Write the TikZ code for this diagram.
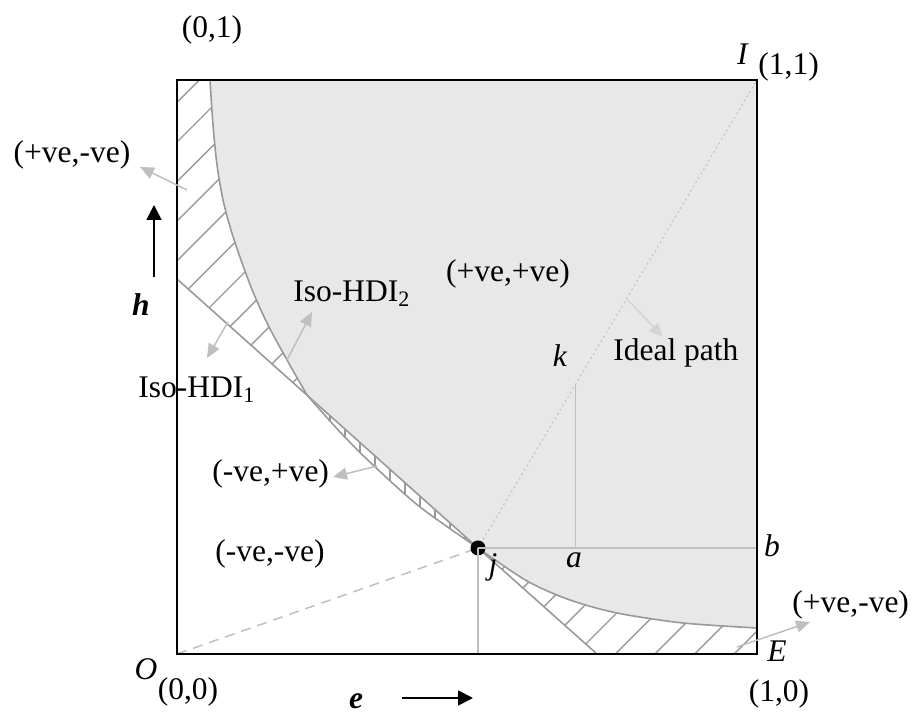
\documentclass[tikz,border=0pt]{standalone}
\usepackage{fontspec}
\setmainfont{Liberation Serif}
\usetikzlibrary{arrows.meta, calc, patterns.meta}
\definecolor{hdigray}{HTML}{999999}
\definecolor{regiongray}{HTML}{E8E8E8}
\definecolor{guidegray}{HTML}{BFBFBF}
\definecolor{pathgray}{HTML}{D4D4D4}

\begin{document}
\begin{tikzpicture}[
    x=0.5pt, y=-0.5pt,
    every node/.style={font=\fontsize{15.75}{19}\selectfont, inner sep=0pt},
    labeltext/.style={anchor=base},
    isoline/.style={draw=hdigray, line width=0.8pt},
    guide/.style={draw=guidegray, line width=0.75pt},
    hatch/.style={pattern={Lines[angle=45, distance=14pt, line width=0.7pt]}, pattern color=hdigray},
    tickhatch/.style={pattern={Lines[angle=90, distance=7.5pt, line width=0.7pt]}, pattern color=hdigray},
    pointer/.style={-{Triangle[length=7pt, width=6pt]}, guidegray, line width=0.75pt},
    axisarrow/.style={-{Triangle[length=7.5pt, width=7.5pt]}, black, line width=0.9pt}
]
    \useasboundingbox (0,0) rectangle (912,715);

    \coordinate (O) at (177,654);
    \coordinate (I) at (757,80);
    \coordinate (E) at (757,654);
    \coordinate (topleft) at (177,80);
    \coordinate (j) at (478,548);
    \coordinate (iso1top) at (177,279);
    \coordinate (iso1bot) at (597,654);
    \coordinate (k) at ($(j)!0.35!(I)$);

    \fill[regiongray] plot[smooth] coordinates {(210,80) (213,125) (217,165) (223,200) (231,230) (241,260) (253,292) (268,325) (287,360) (307,395)}
        -- (j) -- plot[smooth] coordinates {(478,548) (527,581) (570,600) (617,613) (683,623) (757,628)} -- (I) -- cycle;

    \fill[hatch] (topleft) -- plot[smooth] coordinates {(210,80) (213,125) (217,165) (223,200) (231,230) (241,260) (253,292) (268,325) (287,360) (307,395)} -- (iso1top) -- cycle;
    \fill[tickhatch] plot[smooth] coordinates {(307,395) (340,432) (373,465) (420,507) (478,548)} -- cycle;
    \fill[hatch] plot[smooth] coordinates {(478,548) (527,581) (570,600) (617,613) (683,623) (757,628)} -- (E) -- (iso1bot) -- cycle;

    \draw[isoline] plot[smooth] coordinates {(210,80) (213,125) (217,165) (223,200) (231,230) (241,260) (253,292) (268,325) (287,360) (307,395)};
    \draw[isoline] plot[smooth] coordinates {(307,395) (340,432) (373,465) (420,507) (478,548)};
    \draw[isoline] plot[smooth] coordinates {(478,548) (527,581) (570,600) (617,613) (683,623) (757,628)};
    \draw[isoline] (iso1top) -- (j) -- (iso1bot);

    \draw[guidegray, line width=0.75pt, dash pattern=on 5pt off 3.5pt] (O) -- (j);
    \draw[guidegray, line width=0.5pt, dash pattern=on 1pt off 1.5pt] (j) -- (I);

    \node[circle, fill=black, minimum size=7.5pt] (jdot) at (j) {};

    \draw[guide] (j) -- (j |- O);
    \draw[guide] (j) -- (j -| I);
    \draw[guide] (k) -- (k |- j);

    \draw[line width=1pt] (topleft) rectangle (E);

    \coordinate (pnleftfrom) at (187,190);
    \coordinate (pnleftto) at (140,167);
    \coordinate (iso1from) at (228,322);
    \coordinate (iso1to) at (207,358);
    \coordinate (iso2from) at (287,360);
    \coordinate (iso2to) at (312,312);
    \coordinate (npfrom) at (377,466);
    \coordinate (npto) at (333,477);
    \coordinate (idealfrom) at (626,298);
    \coordinate (idealto) at (663,337);
    \coordinate (pnrightfrom) at (737,647);
    \coordinate (pnrightto) at (810,622);
    \coordinate (hfrom) at (154,277);
    \coordinate (hto) at (154,205);
    \coordinate (efrom) at (402,698);
    \coordinate (eto) at (473,698);

    \draw[pointer] (pnleftfrom) -- (pnleftto);
    \draw[pointer] (iso1from) -- (iso1to);
    \draw[pointer] (iso2from) -- (iso2to);
    \draw[pointer] (npfrom) -- (npto);
    \draw[pointer, pathgray] (idealfrom) -- (idealto);
    \draw[pointer] (pnrightfrom) -- (pnrightto);
    \draw[axisarrow] (hfrom) -- (hto);
    \draw[axisarrow] (efrom) -- (eto);

    \node[labeltext] (lbl01) at (212,38) {(0,1)};
    \node[labeltext] (lblI) at (743,65) {\textit{I}};
    \node[labeltext, anchor=base west] (lbl11) at (758,75) {(1,1)};
    \node[labeltext] (pnleft) at (72,163) {(+ve,-ve)};
    \node[labeltext] (hlbl) at (141,316) {\textbf{\textit{h}}};
    \node[labeltext, anchor=base west] (iso2) at (293,302) {Iso-HDI\textsubscript{2}};
    \node[labeltext] (pp) at (508,282) {(+ve,+ve)};
    \node[labeltext, anchor=base west] (iso1) at (138,398) {Iso-HDI\textsubscript{1}};
    \node[labeltext] (klbl) at (560,367) {\textit{k}};
    \node[labeltext, anchor=base west] (ideal) at (613,361) {Ideal path};
    \node[labeltext, anchor=base west] (np) at (212,482) {(-ve,+ve)};
    \node[labeltext, anchor=base west] (nn) at (215,562) {(-ve,-ve)};
    \node[labeltext] (jlbl) at (493,575) {\textit{j}};
    \node[labeltext] (albl) at (574,568) {\textit{a}};
    \node[labeltext] (blbl) at (772,557) {\textit{b}};
    \node[labeltext, anchor=base west] (pnright) at (792,613) {(+ve,-ve)};
    \node[labeltext] (Elbl) at (777,662) {\textit{E}};
    \node[labeltext] (lbl10) at (779,702) {(1,0)};
    \node[labeltext] (Olbl) at (146,680) {\textit{O}};
    \node[labeltext] (lbl00) at (188,700) {(0,0)};
    \node[labeltext] (elbl) at (356,709) {\textbf{\textit{e}}};
\end{tikzpicture}
\end{document}
